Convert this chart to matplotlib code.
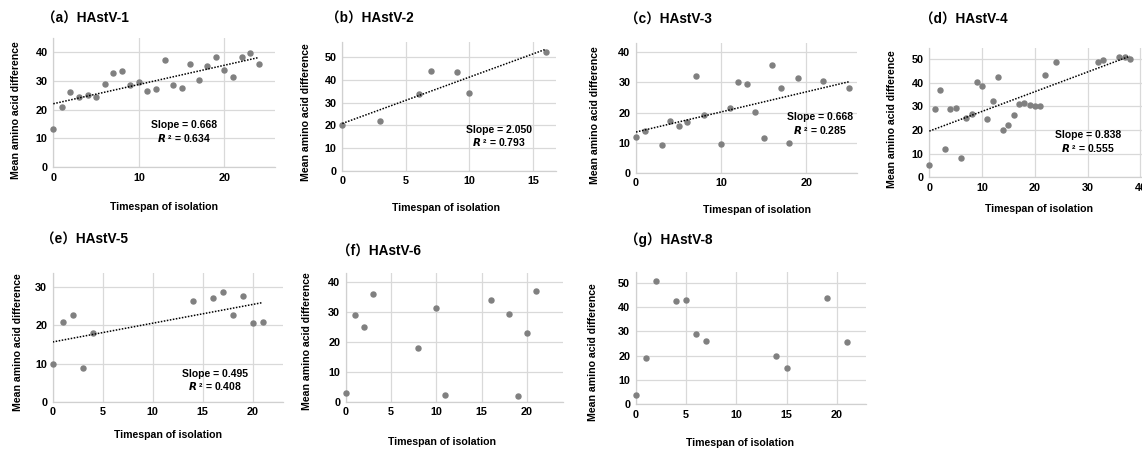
import numpy as np
import matplotlib.pyplot as plt

plt.rcParams['font.family'] = ['Liberation Sans', 'Noto Sans CJK SC', 'DejaVu Sans']
plt.rcParams['font.weight'] = 'bold'

W, H = 1142, 450

# data
a_x = list(range(25))
a_y = [13.1, 21.0, 26.0, 24.3, 25.0, 24.5, 28.9, 32.7, 33.6, 28.6, 29.6, 26.5, 27.2,
       37.3, 28.7, 27.4, 35.9, 30.2, 35.2, 38.5, 33.8, 31.3, 38.3, 39.6, 36.0]

b_x = [0, 3, 6, 7, 9, 10, 16]
b_y = [20.1, 22.1, 33.7, 44.0, 43.4, 34.0, 52.3]

c_x = [0, 1, 3, 4, 5, 6, 7, 8, 10, 11, 12, 13, 14, 15, 16, 17, 18, 19, 22, 25]
c_y = [11.9, 14.0, 9.1, 17.2, 15.6, 16.7, 32.0, 19.1, 9.5, 21.5, 30.0, 29.5, 20.1,
       11.5, 35.8, 28.0, 10.0, 31.5, 30.4, 28.0]

d_x = [0, 1, 2, 3, 4, 5, 6, 7, 8, 9, 10, 11, 12, 13, 14, 15, 16, 17, 18, 19, 20, 21,
       22, 24, 32, 33, 36, 37, 38]
d_y = [5.4, 29.0, 36.9, 12.1, 28.7, 29.4, 8.2, 25.1, 26.6, 40.4, 38.7, 24.6, 32.4,
       42.3, 20.0, 22.0, 26.2, 30.8, 31.5, 30.7, 30.0, 30.1, 43.4, 48.9, 48.9, 49.4,
       50.8, 50.8, 50.0]

e_x = [0, 1, 2, 3, 4, 14, 16, 17, 18, 19, 20, 21]
e_y = [9.8, 20.8, 22.7, 8.7, 18.0, 26.5, 27.2, 28.7, 22.7, 27.6, 20.5, 21.0]

f_x = [0, 1, 2, 3, 8, 10, 11, 16, 18, 19, 20, 21]
f_y = [3.0, 29.0, 25.0, 36.0, 18.0, 31.4, 2.4, 34.0, 29.4, 1.9, 23.0, 37.0]

g_x = [0, 1, 2, 4, 5, 6, 7, 14, 15, 19, 21]
g_y = [3.9, 19.1, 51.0, 42.6, 43.0, 29.1, 26.0, 19.7, 14.7, 43.7, 25.8]

titles = ['（a）HAstV-1', '（b）HAstV-2', '（c）HAstV-3', '（d）HAstV-4',
          '（e）HAstV-5', '（f）HAstV-6', '（g）HAstV-8']
slopes = ['0.668', '2.050', '0.668', '0.838', '0.495', None, None]
r2s = ['0.634', '0.793', '0.285', '0.555', '0.408', None, None]

panels = [
    # x, y, (left, top, right, bottom) px, xmax, ymax, xticks, yticks, title pos, xlabel pos, ylabel pos, stats pos
    (a_x, a_y, (53.3, 38, 275, 167), 25.9, 45, [0, 10, 20], [0, 10, 20, 30, 40], (42, 19), (164, 207), (16, 110), (184, 125)),
    (b_x, b_y, (342.3, 41.7, 555.7, 170.7), 16.8, 56.8, [0, 5, 10, 15], [0, 10, 20, 30, 40, 50], (326, 19), (446, 208), (306, 112), (499, 130)),
    (c_x, c_y, (636, 43.3, 856.7, 172.7), 25.9, 43, [0, 10, 20], [0, 10, 20, 30, 40], (625, 20), (757, 210), (595, 115), (820, 117)),
    (d_x, d_y, (929.3, 48.3, 1151, 177.3), 42, 54.5, [0, 10, 20, 30, 40], [0, 10, 20, 30, 40, 50], (920, 20), (1039, 209), (892, 119), (1088, 135)),
    (e_x, e_y, (52.7, 272.7, 282.7, 401.7), 23, 33.8, [0, 5, 10, 15, 20], [0, 10, 20, 30], (41, 240), (168, 435), (18, 342), (215, 374)),
    (f_x, f_y, (345.7, 272.7, 563.3, 401.7), 24, 43, [0, 5, 10, 15, 20], [0, 10, 20, 30, 40], (337, 252), (442, 442), (307, 341), None),
    (g_x, g_y, (635.7, 271.7, 866, 404), 22.9, 54.7, [0, 5, 10, 15, 20], [0, 10, 20, 30, 40, 50], (625, 240), (740, 443), (593, 352), None),
]

fig = plt.figure(figsize=(W / 100, H / 100), dpi=100)

grid_c = '#d9d9d9'
for i, (xs, ys, box, xmax, ymax, xt, yt, tpos, xlpos, ylpos, spos) in enumerate(panels):
    l, t, r, b = box
    ax = fig.add_axes([l / W, 1 - b / H, (r - l) / W, (b - t) / H])
    ax.scatter(xs, ys, s=13, color='#808080', zorder=3, clip_on=False)
    ax.set_xlim(0, xmax)
    ax.set_ylim(0, ymax)
    ax.set_xticks(xt)
    ax.set_yticks(yt)
    ax.grid(True, color=grid_c, lw=0.9)
    ax.set_axisbelow(True)
    for s in ['top', 'right']:
        ax.spines[s].set_visible(False)
    for s in ['left', 'bottom']:
        ax.spines[s].set_color('#d0d0d0')
        ax.spines[s].set_linewidth(0.9)
    ax.tick_params(length=0, labelsize=7.8, pad=4)
    for lab in ax.get_xticklabels() + ax.get_yticklabels():
        lab.set_fontweight('bold')

    # linear trend line + stats
    if slopes[i] is not None:
        k, c0 = np.polyfit(xs, ys, 1)
        xx = np.array([min(xs), max(xs)])
        ax.plot(xx, k * xx + c0, color='black', lw=1.1, ls=(0, (1, 1)), zorder=4)
        fig.text(spos[0] / W, 1 - spos[1] / H, 'Slope = ' + slopes[i],
                 ha='center', va='center', fontsize=7.5, fontweight='bold')
        fig.text(spos[0] / W, 1 - (spos[1] + 12.5) / H,
                 '$\\mathbfit{R}$ ² = ' + r2s[i],
                 ha='center', va='center', fontsize=7.5, fontweight='bold')

    fig.text(tpos[0] / W, 1 - tpos[1] / H, titles[i], ha='left', va='center',
             fontsize=9.8, fontweight='bold')
    fig.text(xlpos[0] / W, 1 - xlpos[1] / H, 'Timespan of isolation',
             ha='center', va='center', fontsize=7.6, fontweight='bold')
    fig.text(ylpos[0] / W, 1 - ylpos[1] / H, 'Mean amino acid difference',
             ha='center', va='center', rotation=90, fontsize=7.6, fontweight='bold')

fig.savefig('out.png', dpi=100)
